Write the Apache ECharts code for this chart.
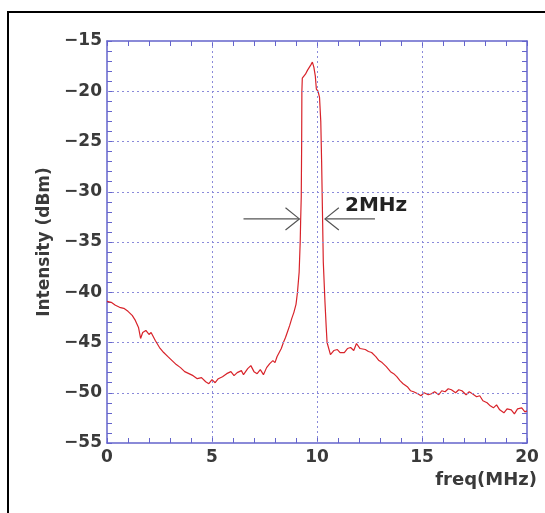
<!DOCTYPE html>
<html style="height: 100%">
<head>
<meta charset="utf-8">
</head>
<body style="height: 100%; margin: 0; background: #fff">
<div id="container" style="width: 545px; height: 513px"></div>
<script type="text/javascript" src="https://cdn.jsdelivr.net/npm/echarts@6/dist/echarts.min.js"></script>
<script type="text/javascript">
// spectrum: freq in MHz, intensity in dBm
var freq = [
  0, 0.2, 0.4, 0.6, 0.8, 1.0, 1.2, 1.35, 1.5, 1.6, 1.7, 1.85, 2.0, 2.1, 2.3, 2.5, 2.7, 2.9,
  3.1, 3.3, 3.5, 3.7, 3.9, 4.1, 4.3, 4.5, 4.7, 4.85, 5.0, 5.15, 5.3, 5.5, 5.7, 5.9, 6.05,
  6.2, 6.4, 6.5, 6.7, 6.85, 7.0, 7.15, 7.3, 7.45, 7.6, 7.75, 7.9, 8.0, 8.1, 8.2, 8.3, 8.4,
  8.5, 8.6, 8.7, 8.8, 8.9, 9.0, 9.07, 9.15, 9.2, 9.22, 9.25, 9.27, 9.28, 9.3, 9.45, 9.55,
  9.7, 9.78, 9.85, 9.92, 9.97, 10.05, 10.12, 10.18, 10.22, 10.26, 10.3, 10.38, 10.44, 10.48,
  10.64, 10.8, 10.97, 11.1, 11.3, 11.45, 11.6, 11.75, 11.88, 12.05, 12.3, 12.45, 12.6, 12.8,
  12.95, 13.1, 13.3, 13.5, 13.65, 13.8, 13.95, 14.1, 14.3, 14.45, 14.6, 14.8, 14.95, 15.1,
  15.3, 15.45, 15.6, 15.8, 15.94, 16.1, 16.25, 16.4, 16.6, 16.75, 16.9, 17.1, 17.25, 17.4,
  17.6, 17.75, 17.9, 18.1, 18.25, 18.4, 18.55, 18.7, 18.9, 19.05, 19.25, 19.4, 19.55, 19.75, 19.9, 20
];
var intensity = [
  -40.9, -41.0, -41.3, -41.5, -41.6, -41.9, -42.3, -42.8, -43.5, -44.6, -44.0, -43.8, -44.2, -44.0, -44.8, -45.5, -46.0, -46.4,
  -46.8, -47.2, -47.5, -47.9, -48.1, -48.3, -48.6, -48.5, -48.9, -49.1, -48.7, -49.0, -48.6, -48.4, -48.1, -47.9, -48.3,
  -48.0, -47.8, -48.2, -47.6, -47.3, -47.9, -48.1, -47.7, -48.2, -47.5, -47.1, -46.8, -47.0, -46.4, -46.0, -45.6, -45.0,
  -44.5, -43.9, -43.3, -42.6, -42.0, -41.2, -40.0, -38.0, -35.0, -33.0, -30.5, -25.0, -20.0, -18.7, -18.3, -17.9,
  -17.4, -17.1, -17.6, -18.5, -19.8, -20.0, -20.6, -23.0, -27.0, -32.0, -37.0, -41.0, -43.5, -45.0,
  -46.2, -45.8, -45.7, -46.0, -46.0, -45.6, -45.5, -45.8, -45.1, -45.6, -45.7, -45.9, -46.0, -46.4,
  -46.8, -47.0, -47.4, -47.9, -48.1, -48.4, -48.8, -49.1, -49.4, -49.8, -49.9, -50.1, -50.3, -50.0,
  -50.2, -50.1, -49.9, -50.2, -49.8, -49.9, -49.6, -49.7, -50.0, -49.7, -49.8, -50.2, -49.9, -50.1,
  -50.4, -50.3, -50.8, -51.0, -51.3, -51.5, -51.2, -51.7, -52.0, -51.6, -51.7, -52.1, -51.6, -51.5, -51.9, -51.8
];

var xTicks = [0, 5, 10, 15, 20];
var yTicks = [-55, -50, -45, -40, -35, -30, -25, -20, -15];

// width annotation (data units)
var arrowLeft = [[6.5, -32.7], [9.16, -32.7]];
var headLeft = [[8.5, -31.6], [9.16, -32.7], [8.5, -33.8]];
var arrowRight = [[10.38, -32.7], [12.76, -32.7]];
var headRight = [[11.04, -31.6], [10.38, -32.7], [11.04, -33.8]];
var widthLabel = '2MHz';

var pts = freq.map(function (f, i) { return [f, intensity[i]]; });

var axisBlue = '#6464cc';
var gridBlue = '#8a8ada';
var txt = '#3a3a3a';
var font = 'DejaVu Sans';
var labelStyle = { color: txt, fontFamily: font, fontWeight: 'bold', fontSize: 17 };

var xMin = xTicks[0], xMax = xTicks[xTicks.length - 1];
var yMin = yTicks[0], yMax = yTicks[yTicks.length - 1];

// only the listed ticks get a label
function labelFor(list) {
  return function (v) {
    return list.indexOf(v) >= 0 ? String(v).replace('-', '\u2212') : '';
  };
}

// axis ticking every 1 unit, ticks drawn inside the frame
function tickAxis(min, max, pos, labels) {
  return {
    type: 'value', min: min, max: max, interval: 1, position: pos,
    axisLine: { show: true, onZero: false, lineStyle: { color: axisBlue, width: 1.5 } },
    axisTick: { show: true, inside: true, length: 5, lineStyle: { color: axisBlue, width: 1 } },
    axisLabel: labels ? Object.assign({ show: true, formatter: labelFor(labels) }, labelStyle) : { show: false },
    splitLine: { show: false }
  };
}

var xBottom = tickAxis(xMin, xMax, 'bottom', xTicks);
xBottom.axisLabel.margin = 6;
var yLeft = tickAxis(yMin, yMax, 'left', yTicks);
yLeft.axisLabel.margin = 5;
yLeft.name = 'Intensity (dBm)';
yLeft.nameLocation = 'middle';
yLeft.nameGap = 49;
yLeft.nameRotate = 90;
yLeft.nameTextStyle = labelStyle;

// dotted grid at the labelled ticks
var gridLines = xTicks.slice(1, -1).map(function (v) { return { xAxis: v }; })
  .concat(yTicks.slice(1, -1).map(function (v) { return { yAxis: v }; }));

var dom = document.getElementById('container');
var myChart = echarts.init(dom);
var option = {
  backgroundColor: '#fff',
  animation: false,
  grid: { left: 107, top: 41, width: 420, height: 402 },
  xAxis: [xBottom, tickAxis(xMin, xMax, 'top')],
  yAxis: [yLeft, tickAxis(yMin, yMax, 'right')],
  series: [
    {
      type: 'line', data: [], z: 1, silent: true,
      markLine: {
        silent: true, symbol: 'none', label: { show: false },
        lineStyle: { color: gridBlue, type: [2, 3], width: 1 },
        data: gridLines
      }
    },
    {
      type: 'line', data: pts, symbol: 'none', z: 3,
      lineStyle: { color: '#d8232a', width: 1.2 }
    },
    {
      type: 'lines', coordinateSystem: 'cartesian2d', polyline: true, z: 4,
      lineStyle: { color: '#555', width: 1.2, opacity: 1 },
      data: [
        { coords: arrowLeft }, { coords: headLeft },
        { coords: arrowRight }, { coords: headRight }
      ]
    }
  ],
  graphic: [
    { type: 'rect', shape: { x: 8, y: 12, width: 700, height: 700 },
      style: { fill: null, stroke: '#000', lineWidth: 2 }, silent: true },
    { type: 'text', left: 345, top: 196,
      style: { text: widthLabel, fill: '#222', font: 'bold 20px "DejaVu Sans"' } },
    { type: 'text', right: 8, top: 471,
      style: { text: 'freq(MHz)', fill: txt, font: 'bold 18px "DejaVu Sans"' } }
  ]
};
myChart.setOption(option, true);
</script>
</body>
</html>
